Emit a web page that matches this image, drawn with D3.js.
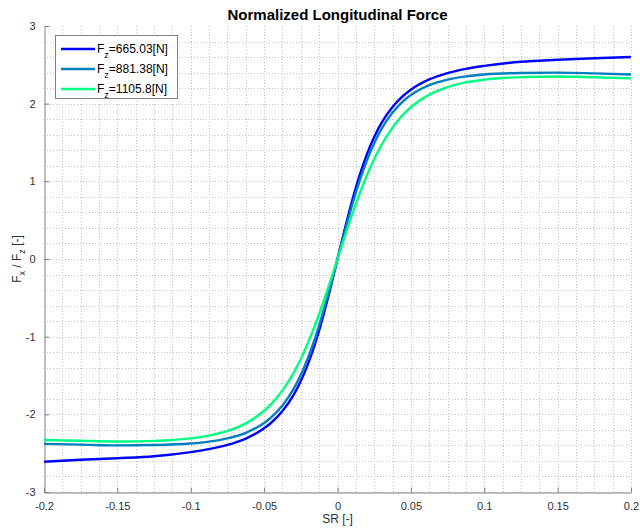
<!DOCTYPE html>
<html><head><meta charset="utf-8">
<script src="https://cdn.jsdelivr.net/npm/d3@7"></script>
<style>
html,body{margin:0;padding:0;background:#fff;}
text{font-family:"Liberation Sans",Arial,Helvetica,sans-serif;}
</style></head>
<body><svg id="chart" width="640" height="530"></svg>
<script>
const slipRatio = [-0.2,-0.175,-0.15,-0.125,-0.1,-0.0875,-0.075,-0.0625,-0.05,-0.045,-0.0375,-0.03,-0.025,-0.02,-0.015,-0.0125,-0.01,-0.005,0,
  0.005,0.01,0.0125,0.015,0.02,0.025,0.03,0.0375,0.045,0.05,0.0625,0.075,0.0875,0.1,0.125,0.15,0.175,0.2];
const fz665 = [-2.61,-2.585,-2.565,-2.54,-2.486,-2.448,-2.394,-2.312,-2.18,-2.105,-1.958,-1.753,-1.572,-1.348,-1.075,-0.92,-0.753,-0.389,0,
  0.389,0.753,0.92,1.075,1.348,1.572,1.753,1.958,2.105,2.18,2.312,2.394,2.448,2.486,2.54,2.565,2.585,2.60];
const fz881 = [-2.38,-2.39,-2.40,-2.395,-2.376,-2.352,-2.31,-2.238,-2.111,-2.037,-1.886,-1.675,-1.491,-1.268,-1.002,-0.853,-0.695,-0.357,0,
  0.357,0.695,0.853,1.002,1.268,1.491,1.675,1.886,2.037,2.111,2.238,2.31,2.352,2.376,2.395,2.40,2.39,2.375];
const fz1105 = [-2.33,-2.34,-2.35,-2.342,-2.309,-2.274,-2.214,-2.116,-1.954,-1.865,-1.692,-1.469,-1.287,-1.076,-0.837,-0.708,-0.574,-0.292,0,
  0.292,0.574,0.708,0.837,1.076,1.287,1.469,1.692,1.865,1.954,2.116,2.214,2.274,2.309,2.342,2.35,2.34,2.325];
const seriesNames = ["665.03[N]","881.38[N]","1105.8[N]"];
const seriesColors = ["#0000ff","#0080bf","#00ff80"];
const xTicks = [-0.2,-0.15,-0.1,-0.05,0,0.05,0.1,0.15,0.2];
const xTickLabels = ["-0.2","-0.15","-0.1","-0.05","0","0.05","0.1","0.15","0.2"];
const yTicks = [-3,-2,-1,0,1,2,3];
const yTickLabels = ["-3","-2","-1","0","1","2","3"];
const xMinorStep = 0.0125, yMinorStep = 0.2;

const svg = d3.select("#chart");
const L = 44, R = 631, T = 26, B = 492;
const x = d3.scaleLinear().domain([-0.2,0.2]).range([L,R]);
const y = d3.scaleLinear().domain([-3,3]).range([B,T]);

// grid
const gx = d3.range(-0.2, 0.2 + 1e-9, xMinorStep);
const gy = d3.range(-3, 3 + 1e-9, yMinorStep);
const grid = svg.append("g").attr("stroke","#c4c4c4").attr("stroke-width",1).attr("stroke-dasharray","1,2");
grid.selectAll("line.v").data(gx.slice(1)).join("line").attr("class","v")
  .attr("x1",d=>Math.round(x(d))+0.5).attr("x2",d=>Math.round(x(d))+0.5).attr("y1",T).attr("y2",B);
grid.selectAll("line.h").data(gy.slice(0,-1)).join("line").attr("class","h")
  .attr("y1",d=>Math.round(y(d))+0.5).attr("y2",d=>Math.round(y(d))+0.5).attr("x1",L).attr("x2",R);

// axes
const xAxis = d3.axisBottom(x).tickValues(xTicks).tickFormat((d,i)=>xTickLabels[i]).tickSizeInner(-5).tickSizeOuter(0).tickPadding(10);
const yAxis = d3.axisLeft(y).tickValues(yTicks).tickFormat((d,i)=>yTickLabels[i]).tickSizeInner(-5).tickSizeOuter(0).tickPadding(9);
const ax = svg.append("g").attr("transform",`translate(0,${B+0.5})`).call(xAxis);
const ay = svg.append("g").attr("transform",`translate(${L+0.5},0)`).call(yAxis);
[ax,ay].forEach(a=>{
  a.selectAll("path,line").attr("stroke","#808080");
  a.selectAll("text").attr("fill","#303030").style("font-size","11px").style("font-family","'Liberation Sans',Arial,sans-serif");
});

// lines
const series = [fz665, fz881, fz1105];
const line = d3.line().x((d,i)=>x(slipRatio[i])).y(d=>y(d)).curve(d3.curveMonotoneX);
svg.append("g").attr("fill","none").selectAll("path").data(series).join("path")
  .attr("d",d=>line(d)).attr("stroke",(d,i)=>seriesColors[i]).attr("stroke-width",2.4).attr("stroke-linejoin","round");

// title
svg.append("text").attr("x",(L+R)/2).attr("y",20).attr("text-anchor","middle")
  .style("font-size","15px").style("font-weight","bold").attr("fill","#000").text("Normalized Longitudinal Force");

// x label
svg.append("text").attr("x",(L+R)/2).attr("y",523).attr("text-anchor","middle")
  .style("font-size","12px").attr("fill","#303030").text("SR [-]");

// y label
const yl = svg.append("text").attr("transform","translate(21,259) rotate(-90)").attr("text-anchor","middle")
  .style("font-size","12px").attr("fill","#303030");
yl.append("tspan").text("F");
yl.append("tspan").attr("dy",4).style("font-size","9px").text("x");
yl.append("tspan").attr("dy",-4).text(" / F");
yl.append("tspan").attr("dy",4).style("font-size","9px").text("z");
yl.append("tspan").attr("dy",-4).text(" [-]");

// legend
const lg = svg.append("g");
lg.append("rect").attr("x",55.5).attr("y",35.5).attr("width",122).attr("height",63)
  .attr("fill","#fff").attr("stroke","#808080").attr("stroke-width",1);
const rowY = [49,69,89];
seriesNames.forEach((n,i)=>{
  lg.append("line").attr("x1",61).attr("x2",95).attr("y1",rowY[i]).attr("y2",rowY[i])
    .attr("stroke",seriesColors[i]).attr("stroke-width",2.4);
  const t = lg.append("text").attr("x",97).attr("y",rowY[i]+4).style("font-size","12px").attr("fill","#000");
  t.append("tspan").text("F");
  t.append("tspan").attr("dy",5).style("font-size","9px").text("z");
  t.append("tspan").attr("dy",-5).text("="+n);
});
</script></body></html>
